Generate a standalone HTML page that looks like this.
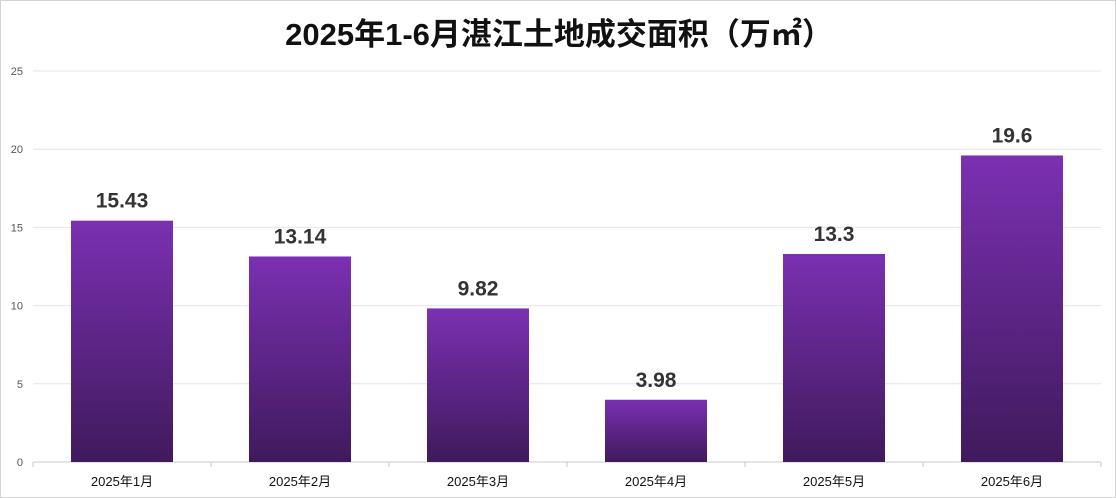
<!DOCTYPE html>
<html><head><meta charset="utf-8"><style>
html,body{margin:0;padding:0;background:#fff}
#wrap{position:relative;width:1114px;height:496px;border:1px solid #d4d4d4;overflow:hidden}
#title{position:absolute;left:0;top:8px;width:1116px;text-align:center;font:bold 31px "Liberation Sans","Noto Sans CJK SC",sans-serif;color:#111}
svg{position:absolute;left:0;top:0}
</style></head><body>
<div id="wrap">
<div id="title">2025年1-6月湛江土地成交面积（万㎡）</div>
<svg id="chart" width="1116" height="498">
<defs><linearGradient id="g" x1="0" y1="0" x2="0" y2="1"><stop offset="0" stop-color="#7b30b2"/><stop offset="1" stop-color="#3f1a5c"/></linearGradient></defs>
</svg>
</div>
<script>
const categories=["2025年1月","2025年2月","2025年3月","2025年4月","2025年5月","2025年6月"];
const values=[15.43,13.14,9.82,3.98,13.3,19.6];
const labels=["15.43","13.14","9.82","3.98","13.3","19.6"];
const yTicks=[0,5,10,15,20,25];
const svg=document.getElementById('chart');const NS='http://www.w3.org/2000/svg';
const x0=32,x1=1100,yb=461,yt=70,ymax=25;
const band=(x1-x0)/categories.length;
const y=v=>yb-(v/ymax)*(yb-yt);
const xc=i=>x0+band*(i+0.5);
function mk(t,a){const e=document.createElementNS(NS,t);for(const k in a)e.setAttribute(k,a[k]);svg.appendChild(e);return e;}
yTicks.forEach(t=>{
 const l=mk('line',{x1:x0,x2:x1,y1:y(t),y2:y(t),stroke:t===0?'#c8c8c8':'#e4e4e4','stroke-width':1});
 
 
 const tx=mk('text',{x:22,y:y(t)+4,'text-anchor':'end','font-size':11,fill:'#555','font-family':'Liberation Sans, sans-serif'});
 tx.textContent=t;
 
 
});
for(let i=0;i<=categories.length;i++){
 const tk=mk('line',{x1:x0+band*i,x2:x0+band*i,y1:yb,y2:yb+5,stroke:'#c8c8c8'});
 
 
}
const bw=102;
values.forEach((v,i)=>{
 const r=mk('rect',{x:xc(i)-bw/2,y:y(v),width:bw,height:yb-y(v),fill:'url(#g)'});
 
 
 const t=mk('text',{x:xc(i),y:y(v)-13,'text-anchor':'middle','font-size':21,'font-weight':'bold',fill:'#333','font-family':'Liberation Sans, sans-serif'});
 t.textContent=labels[i];
 
 
 const c=mk('text',{x:xc(i),y:yb+24,'text-anchor':'middle','font-size':13,fill:'#111','font-family':'Liberation Sans, Noto Sans CJK SC, sans-serif'});
 c.textContent=categories[i];
 
 
});
</script>
</body></html>
